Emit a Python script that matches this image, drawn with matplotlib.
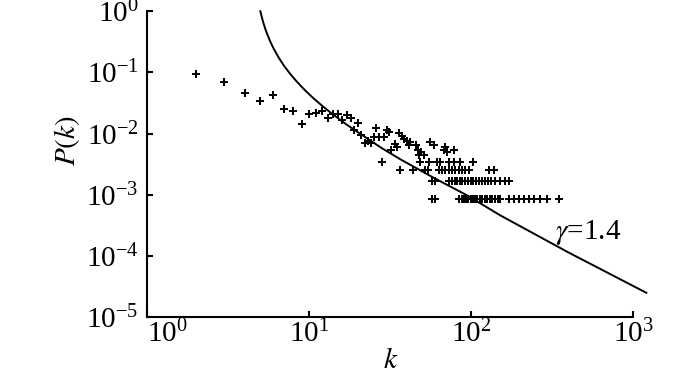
import matplotlib
matplotlib.use('Agg')
import matplotlib.pyplot as plt
from matplotlib.ticker import NullLocator

plt.rcParams['font.family'] = ['Liberation Serif', 'DejaVu Serif']
plt.rcParams['mathtext.fontset'] = 'stix'
plt.rcParams['axes.unicode_minus'] = False

# degree distribution
k_low = [2, 3, 4, 5, 6, 7, 8, 9, 10, 11, 12, 13, 14, 15, 16, 17, 18, 19, 20, 21,
         22, 23, 24, 25, 26, 27, 28, 29, 30, 31, 32, 34, 35, 36]
p_low = [0.094, 0.069, 0.0455, 0.034, 0.0433, 0.0256, 0.0231, 0.0141, 0.0209, 0.0214,
         0.0237, 0.0182, 0.0212, 0.0209, 0.0169, 0.0204, 0.0182, 0.0114, 0.0149, 0.0096,
         0.0070, 0.0077, 0.0070, 0.0088, 0.0123, 0.0088, 0.0034, 0.0088, 0.0116, 0.0105,
         0.0053, 0.0068, 0.0060, 0.0102]

k_mid = [37.3, 38.6, 40.1, 41.0, 42.0, 45.8, 46.6, 47.3, 48.9, 50.8, 55.8, 58.5,
         67.5, 69.1, 70.8, 78.5]
p_mid = [0.0093, 0.0083, 0.0077, 0.0064, 0.0073, 0.0064, 0.0053, 0.0044, 0.0050, 0.0044,
         0.0073, 0.0064, 0.0053, 0.0060, 0.0050, 0.0053]

# rows with 4, 3, 2 and 1 nodes
k_row4 = [48, 54.5, 61.5, 63.7, 72.4, 77.8, 85.5, 103]
p_row4 = 3.4e-3
k_row3 = [36.5, 43.7, 52.0, 53.7, 62.8, 65.9, 69.1, 72.4, 76.0, 79.7, 83.5, 87.6,
          91.8, 96.2, 128, 137]
p_row3 = 2.55e-3
k_row2 = [57, 60, 73, 76, 79, 82, 85, 88, 91, 95, 99, 103, 107, 111, 116, 121, 126,
          132, 140, 151, 162, 170]
p_row2 = 1.7e-3
k_row1 = [57, 60, 84, 87, 90, 93, 96, 99, 102, 105, 109, 113, 117, 121, 125, 130, 135,
          140, 146, 151, 170, 182, 196, 210, 226, 242, 267, 293, 346]
p_row1 = 8.5e-4

# fitted curve, gamma = 1.4
fit_k = [5.0, 5.1, 5.2, 5.35, 5.5, 5.75, 6.0, 6.5, 7.0, 7.7, 8.4, 9.4, 10.6, 12.0,
         13.5, 17.1, 22.7, 28, 36.5, 58.5, 94, 151, 400, 1200]
fit_p = [1.0, 0.806, 0.668, 0.525, 0.428, 0.321, 0.253, 0.173, 0.128, 0.092, 0.0705,
         0.0514, 0.038, 0.0286, 0.0222, 0.0139, 0.0084, 0.0058, 0.0038, 0.0019, 9.8e-4,
         4.6e-4, 1.13e-4, 2.5e-5]

x_ticks = [1, 10, 100, 1000]
y_ticks = [1e-5, 1e-4, 1e-3, 1e-2, 1e-1, 1]

ks = k_low + k_mid + k_row4 + k_row3 + k_row2 + k_row1
ps = (p_low + p_mid + [p_row4] * len(k_row4) + [p_row3] * len(k_row3)
      + [p_row2] * len(k_row2) + [p_row1] * len(k_row1))

fig = plt.figure(figsize=(7, 3.74), dpi=100)
ax = fig.add_axes([0.21, 0.152, 0.695, 0.818])

ax.plot(ks, ps, linestyle='none', marker='P', markersize=6.2, color='black',
        markeredgewidth=0)
ax.plot(fit_k, fit_p, color='black', linewidth=1.4, clip_on=False)

ax.set_xscale('log')
ax.set_yscale('log')
ax.set_xlim(1, 1000)
ax.set_ylim(1e-5, 1)
ax.set_xticks(x_ticks)
ax.set_yticks(y_ticks)
ax.xaxis.set_minor_locator(NullLocator())
ax.yaxis.set_minor_locator(NullLocator())

for s in ['top', 'right']:
    ax.spines[s].set_visible(False)
for s in ['left', 'bottom']:
    ax.spines[s].set_linewidth(1.5)
ax.tick_params(direction='in', length=4, width=1.5, labelsize=21)
ax.tick_params(axis='y', pad=6)
ax.tick_params(axis='x', pad=2)

# first x label sits right of the corner, as in the original
ax.xaxis.get_major_ticks()[0].label1.set_horizontalalignment('left')

ax.set_xlabel(r'$k$', fontsize=21, labelpad=0)
ax.set_ylabel(r'$P(k)$', fontsize=21)
ax.yaxis.set_label_coords(-0.134, 0.578)

ax.text(330, 2.4e-4, r'$\gamma$=1.4', fontsize=21, ha='left', va='center')

fig.savefig('out.png', dpi=100)
